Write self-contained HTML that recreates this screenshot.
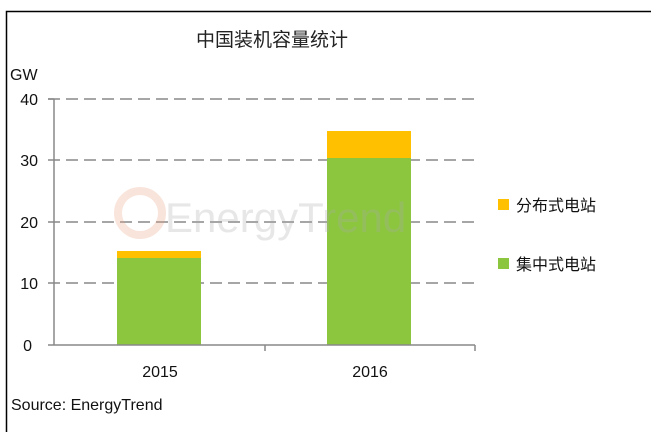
<!DOCTYPE html>
<html><head><meta charset="utf-8"><style>
html,body{margin:0;padding:0;background:#fff;}
svg{display:block;}
</style></head><body>
<svg width="651" height="432" viewBox="0 0 651 432" xmlns="http://www.w3.org/2000/svg" font-family="'Liberation Sans','Noto Sans CJK SC',sans-serif">
<rect x="0" y="0" width="651" height="432" fill="#fff"/>
<path d="M6.5 432 V11.5 H651" fill="none" stroke="#000" stroke-width="1.5"/>
<text x="272" y="46" font-size="19" text-anchor="middle" fill="#222">中国装机容量统计</text>
<text x="10" y="80" font-size="16" fill="#111">GW</text>
<g font-size="16" fill="#111" text-anchor="end">
<text x="38" y="105">40</text><text x="38" y="166">30</text><text x="38" y="228">20</text><text x="38" y="289">10</text><text x="32" y="351">0</text>
</g>
<g stroke="#888" stroke-width="1.5" stroke-dasharray="12,6">
<line x1="48" y1="99" x2="475" y2="99"/><line x1="48" y1="160" x2="475" y2="160"/><line x1="48" y1="222" x2="475" y2="222"/><line x1="48" y1="283" x2="475" y2="283"/>
</g>
<rect x="117" y="258" width="84" height="87" fill="#8cc63f"/>
<rect x="117" y="251" width="84" height="7" fill="#ffc000"/>
<rect x="327" y="158" width="84" height="187" fill="#8cc63f"/>
<rect x="327" y="131" width="84" height="27" fill="#ffc000"/>
<!-- watermark -->
<g opacity="0.28">
<circle cx="140" cy="213" r="22" fill="none" stroke="#e8a080" stroke-width="8"/>
<text x="165" y="232" font-size="42" fill="#aaa">EnergyTrend</text>
</g>
<g stroke="#888" stroke-width="1.5">
<line x1="54" y1="99" x2="54" y2="345"/>
<line x1="48" y1="345" x2="475" y2="345"/>
<line x1="48" y1="99" x2="54" y2="99"/>
<line x1="265" y1="345" x2="265" y2="351"/>
<line x1="475" y1="345" x2="475" y2="351"/>
</g>
<g font-size="16" fill="#111" text-anchor="middle">
<text x="160" y="377">2015</text><text x="370" y="377">2016</text>
</g>
<rect x="498" y="199" width="11" height="11" fill="#ffc000"/>
<text x="516" y="211" font-size="16" fill="#111">分布式电站</text>
<rect x="498" y="258" width="11" height="11" fill="#8cc63f"/>
<text x="516" y="270" font-size="16" fill="#111">集中式电站</text>
<text x="11" y="410" font-size="16" fill="#111">Source: EnergyTrend</text>
</svg>
</body></html>
